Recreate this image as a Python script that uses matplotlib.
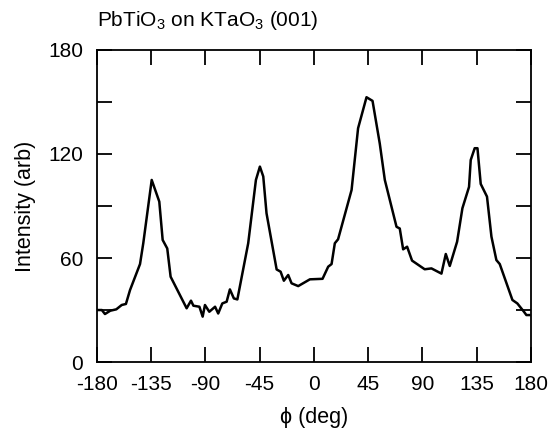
import numpy as np
import matplotlib.pyplot as plt
from matplotlib.ticker import FixedLocator, FuncFormatter

plt.rcParams['font.family'] = ['Liberation Sans', 'DejaVu Sans']
plt.rcParams['mathtext.fontset'] = 'custom'
plt.rcParams['mathtext.rm'] = 'Liberation Sans'
plt.rcParams['mathtext.it'] = 'Liberation Sans:italic'
plt.rcParams['axes.unicode_minus'] = False

# phi scan of PbTiO3 film
phi = [-179, -176, -173.4, -169, -164, -159.5, -156, -152.6, -144.3, -141.6,
       -134.6, -128.3, -125.5, -121.7, -118.9, -105.6, -102, -100, -95, -92.3,
       -90.4, -86.8, -82, -79.4, -76, -72.4, -69.7, -66.4, -63.5, -54.5,
       -48.1, -44.8, -42, -39.3, -30.9, -27.6, -24.9, -21.3, -18.5, -13,
       -3.3, 7.2, 11.9, 14.7, 17.4, 20.1, 31.3, 36.7, 43.7, 48.7,
       54.7, 58.9, 68.6, 71.3, 74.1, 77.4, 81.5, 92, 97.6, 105.9,
       109.5, 112.8, 118.9, 123.3, 128.8, 130.2, 133.5, 135.8, 138.5, 143.7,
       147.4, 151.5, 154.3, 164.8, 168.9, 174.4, 176.4, 179]
intensity = [30, 30, 27.7, 29.6, 30.4, 32.9, 33.5, 41.5, 56.5, 68.5,
             105, 92.5, 70.4, 65.5, 49.2, 31, 35.4, 32.5, 31.9, 26.2,
             32.9, 29, 31.9, 28, 33.8, 34.8, 41.9, 36.7, 36.1, 68.5,
             105, 112.7, 107, 85.8, 53.4, 52.1, 46.9, 50.2, 45.4, 43.8,
             47.7, 48, 55, 56.5, 68.5, 70.8, 99.2, 134.8, 152.7, 150.6,
             126, 105, 78, 77, 65, 66.5, 58.5, 53.5, 54, 51,
             62.3, 55.4, 69.4, 88.7, 101, 116.5, 123.3, 123.3, 102.7, 95.4,
             72.3, 58.8, 56.5, 35.8, 33.8, 29, 27.1, 27.1]

xticks = [-180, -135, -90, -45, 0, 45, 90, 135, 180]
yticks = [0, 30, 60, 90, 120, 150, 180]
ylabels_shown = [0, 60, 120, 180]

fig = plt.figure(figsize=(5.49, 4.30), dpi=100)
ax = fig.add_axes([0.1767, 0.158, 0.79, 0.726])

ax.plot(phi, intensity, color='black', lw=1.8)

ax.set_xlim(-180, 180)
ax.set_ylim(0, 180)
ax.xaxis.set_major_locator(FixedLocator(xticks))
ax.yaxis.set_major_locator(FixedLocator(yticks))
ax.yaxis.set_major_formatter(FuncFormatter(
    lambda v, p: f'{int(v)}' if int(v) in ylabels_shown else ''))
ax.tick_params(direction='in', length=11, width=1.3, top=True, right=True,
               labelsize=15)
ax.tick_params(axis='x', pad=9)
ax.tick_params(axis='y', pad=10)
for s in ax.spines.values():
    s.set_linewidth(1.3)

ax.set_xlabel('\u03d5 (deg)', fontsize=15.5, labelpad=10)
ax.set_ylabel('Intensity (arb)', fontsize=15.5, labelpad=9)
fig.text(97 / 549, 1 - 21 / 430, 'PbTiO$_3$ on KTaO$_3$ (001)',
         fontsize=15, ha='left', va='center')

fig.savefig('out.png', dpi=100)
